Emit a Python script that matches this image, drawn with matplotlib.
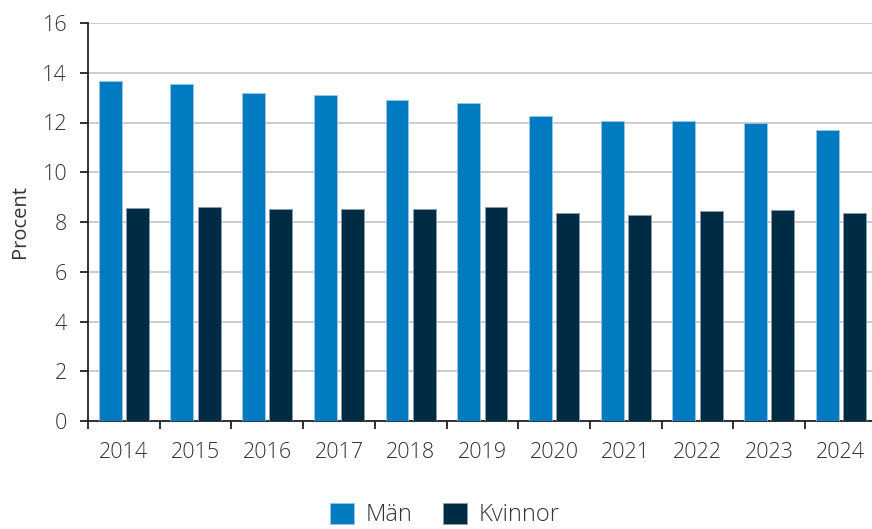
import matplotlib
matplotlib.use("Agg")
import matplotlib.pyplot as plt
import numpy as np

years = ["2014", "2015", "2016", "2017", "2018", "2019", "2020", "2021", "2022", "2023", "2024"]
man = [13.66, 13.56, 13.19, 13.09, 12.91, 12.79, 12.27, 12.08, 12.07, 11.96, 11.68]
kvinnor = [8.56, 8.62, 8.51, 8.51, 8.54, 8.59, 8.35, 8.27, 8.43, 8.47, 8.37]
series_names = ["Män", "Kvinnor"]
colors = ["#007AC0", "#002B45"]

plt.rcParams['font.family'] = ['Open Sans', 'DejaVu Sans']
plt.rcParams['font.weight'] = 'light'
W, H = 872, 529
fig = plt.figure(figsize=(W / 100, H / 100), dpi=100)
ax = fig.add_axes([88 / W, 1 - 421 / H, (872 - 88) / W, (421 - 23) / H])

x = np.arange(len(years))
bw = 0.32
off = 0.19
ax.bar(x - off, man, width=bw, color=colors[0], edgecolor="#9cc6e3", linewidth=0.6,
       label=series_names[0], zorder=3)
ax.bar(x + off, kvinnor, width=bw, color=colors[1], edgecolor="#8a9bab", linewidth=0.6,
       label=series_names[1], zorder=3)

ax.set_xlim(-0.5, -0.5 + (872 - 88) / 71.7)
ax.set_ylim(0, 16)
ax.set_yticks(np.arange(0, 17, 2))
ax.yaxis.grid(True, color="#cccccc", linewidth=1.4, zorder=0)
ax.set_axisbelow(True)

ax.set_xticks(x)
ax.set_xticklabels(years)
ax.set_xticks(np.arange(-0.5, 10.5, 1.0), minor=True)
ax.tick_params(axis="x", which="major", length=0, pad=15, labelsize=15.5, labelcolor="#333333")
ax.tick_params(axis="x", which="minor", length=6, width=1.3, color="#222222")
ax.tick_params(axis="y", length=6, width=1.3, color="#222222", labelsize=15.5, labelcolor="#333333", pad=9)

for s in ["top", "right"]:
    ax.spines[s].set_visible(False)
for s in ["left", "bottom"]:
    ax.spines[s].set_linewidth(1.3)
    ax.spines[s].set_color("#222222")

ax.set_ylabel("Procent", fontsize=14.5, color="#333333", labelpad=9)

fig.legend(loc="center", bbox_to_anchor=(445 / W, 1 - 515 / H), ncol=2, frameon=False,
           fontsize=17, handlelength=1.0, handleheight=1.0, columnspacing=1.3,
           handletextpad=0.5, labelcolor="#333333")

fig.savefig("out.png", dpi=100)
